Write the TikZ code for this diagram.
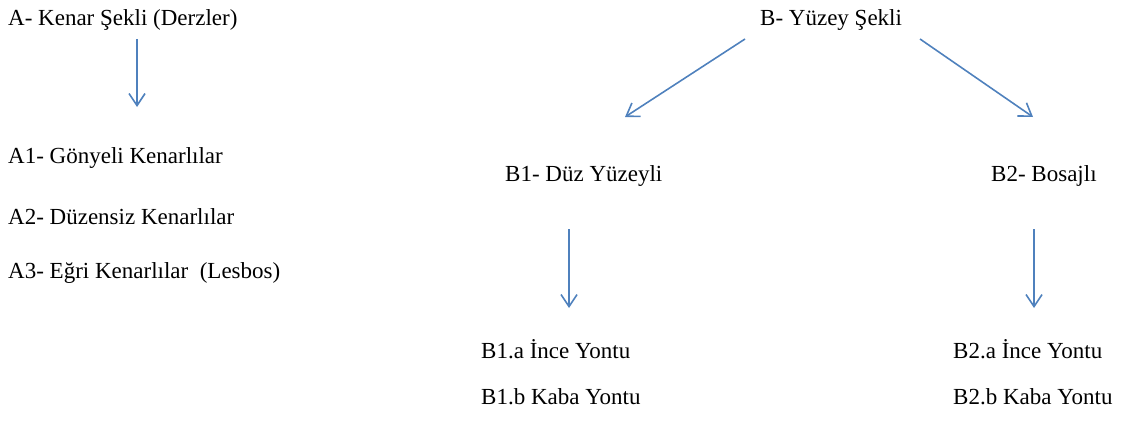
\documentclass[tikz,border=0pt]{standalone}
\usepackage{fontspec}
\setmainfont{Liberation Serif}
\usetikzlibrary{arrows.meta}
\definecolor{arrowblue}{RGB}{79,129,189}
\tikzset{
  lbl/.style={anchor=west, inner sep=0pt, font=\fontsize{23}{27}\selectfont, text=black},
  conn/.style={draw=arrowblue, line width=1.6pt, -{Straight Barb[length=12pt,width=16pt,line width=1.6pt]}}
}
\begin{document}
\begin{tikzpicture}[x=1pt,y=1pt]
\useasboundingbox (0,0) rectangle (1126,-420);
\node[lbl] (A) at (8,-20) {A- Kenar Şekli (Derzler)};
\node[lbl] (A1) at (8,-158) {A1- Gönyeli Kenarlılar};
\node[lbl] (A2) at (8,-217) {A2- Düzensiz Kenarlılar};
\node[lbl] (A3) at (8,-273) {A3- Eğri Kenarlılar\ \ (Lesbos)};
\node[lbl] (B) at (760,-20) {B- Yüzey Şekli};
\node[lbl] (B1) at (505,-176) {B1- Düz Yüzeyli};
\node[lbl] (B2) at (991,-176) {B2- Bosajlı};
\node[lbl] (B1a) at (481,-349) {B1.a İnce Yontu};
\node[lbl] (B1b) at (481,-397) {B1.b Kaba Yontu};
\node[lbl] (B2a) at (953,-349) {B2.a İnce Yontu};
\node[lbl] (B2b) at (953,-397) {B2.b Kaba Yontu};
\coordinate (As) at (137,-39);
\coordinate (Ae) at (137,-107);
\coordinate (Bls) at (745,-39);
\coordinate (Ble) at (625,-117);
\coordinate (Brs) at (920,-39);
\coordinate (Bre) at (1033,-117);
\coordinate (B1s) at (569,-229);
\coordinate (B1e) at (569,-308);
\coordinate (B2s) at (1034,-229);
\coordinate (B2e) at (1034,-308);
\draw[conn] (As) -- (Ae);
\draw[conn] (Bls) -- (Ble);
\draw[conn] (Brs) -- (Bre);
\draw[conn] (B1s) -- (B1e);
\draw[conn] (B2s) -- (B2e);
\end{tikzpicture}
\end{document}
